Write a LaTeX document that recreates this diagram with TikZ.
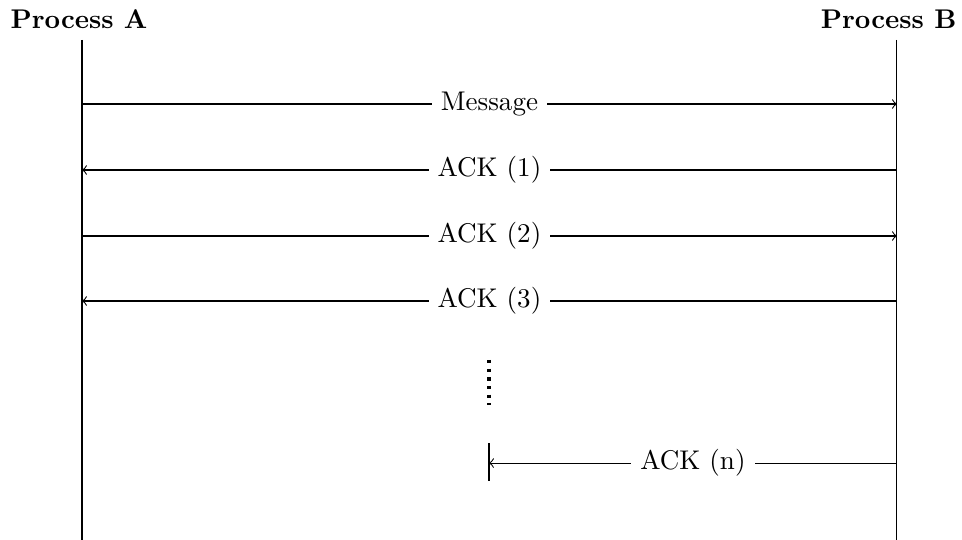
\documentclass[tikz,border=0pt]{standalone}

\tikzset{
	msg/.style={fill=white},
	title/.style={font=\bfseries, inner sep=0pt},
}

\begin{document}
\begin{tikzpicture}
		\pgfmathsetmacro{\xa}{1.066}
		\pgfmathsetmacro{\xb}{11.66}
		\pgfmathsetmacro{\xm}{6.357}
		\useasboundingbox (0,0) rectangle (12.506,-7.02);

		\node[title, anchor=base west] (procA) at (0.13,-0.377) {Process A};
		\node[title, anchor=base east] (procB) at (12.44,-0.377) {Process B};

		\coordinate (topA) at (\xa,-0.52);
		\coordinate (botA) at (\xa,-7.02);
		\coordinate (topB) at (\xb,-0.52);
		\coordinate (botB) at (\xb,-7.02);
		\draw (topA) -- (botA);
		\draw (topB) -- (botB);

		\coordinate (a1) at (\xa,-1.352);
		\coordinate (b1) at (\xb,-1.352);
		\coordinate (a2) at (\xa,-2.21);
		\coordinate (b2) at (\xb,-2.21);
		\coordinate (a3) at (\xa,-3.068);
		\coordinate (b3) at (\xb,-3.068);
		\coordinate (a4) at (\xa,-3.913);
		\coordinate (b4) at (\xb,-3.913);
		\draw[->] (a1) -- node[msg] {Message} (b1);
		\draw[->] (b2) -- node[msg] {ACK (1)} (a2);
		\draw[->] (a3) -- node[msg] {ACK (2)} (b3);
		\draw[->] (b4) -- node[msg] {ACK (3)} (a4);

		% gap
		\coordinate (dotTop) at (\xm,-4.68);
		\coordinate (dotBot) at (\xm,-5.26);
		\draw[very thick, dotted] (dotTop) -- (dotBot);

		\coordinate (an) at (\xm,-6.02);
		\coordinate (bn) at (\xb,-6.02);
		\coordinate (barTop) at (\xm,-5.76);
		\coordinate (barBot) at (\xm,-6.25);
		\draw[thick] (barTop) -- (barBot);
		\draw[->] (bn) -- node[msg] {ACK (n)} (an);
	\end{tikzpicture}
\end{document}
